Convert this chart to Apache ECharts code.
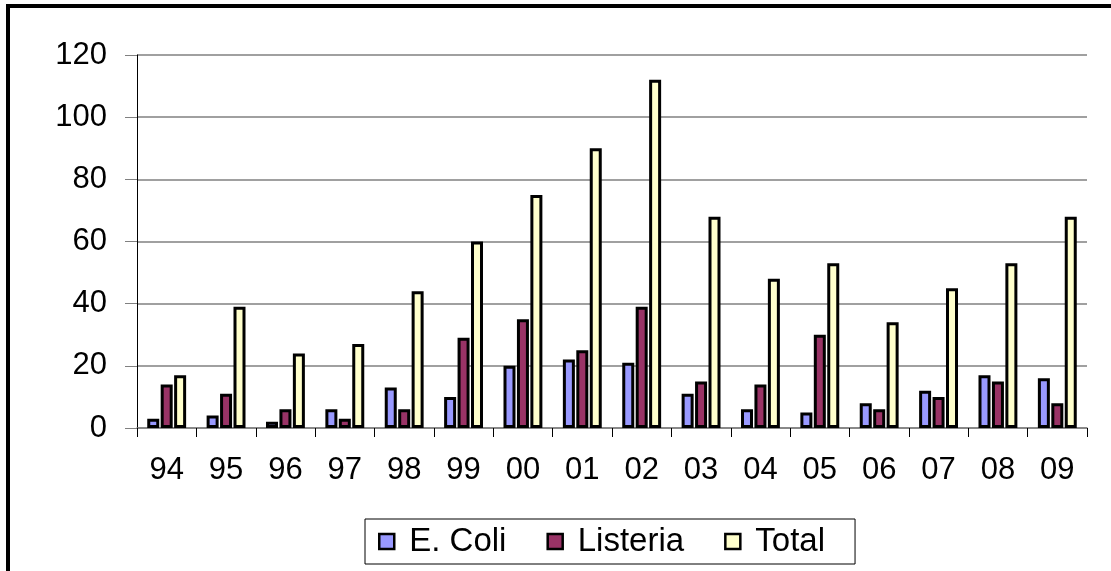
<!DOCTYPE html>
<html>
<head>
<meta charset="utf-8">
<script src="https://cdn.jsdelivr.net/npm/echarts@6/dist/echarts.min.js"></script>
<style>
  html, body { margin: 0; padding: 0; background: #fff; }
  #chart { width: 1111px; height: 571px; }
</style>
</head>
<body>
<div id="chart"></div>
<script>
const years = ['94', '95', '96', '97', '98', '99', '00', '01', '02', '03', '04', '05', '06', '07', '08', '09'];
const eColi = [3, 4, 2, 6, 13, 10, 20, 22, 21, 11, 6, 5, 8, 12, 17, 16];
const listeria = [14, 11, 6, 3, 6, 29, 35, 25, 39, 15, 14, 30, 6, 10, 15, 8];
const total = [17, 39, 24, 27, 44, 60, 75, 90, 112, 68, 48, 53, 34, 45, 53, 68];

const chart = echarts.init(document.getElementById('chart'));
const font = 'Liberation Sans, Arial, sans-serif';

const barStyle = (color) => ({
  color: color,
  borderColor: '#000',
  borderWidth: 3
});

chart.setOption({
  animation: false,
  backgroundColor: '#fff',
  graphic: [
    {
      type: 'rect',
      shape: { x: 8, y: 6, width: 1120, height: 600 },
      style: { fill: 'none', stroke: '#000', lineWidth: 4 },
      silent: true
    }
  ],
  grid: {
    left: 137,
    right: 24,
    top: 55,
    bottom: 143
  },
  legend: {
    left: 365,
    top: 519,
    padding: [6, 30, 6, 13],
    backgroundColor: '#fff',
    borderColor: '#000',
    borderWidth: 1,
    itemWidth: 15,
    itemHeight: 15,
    itemGap: 40,
    icon: 'rect',
    itemStyle: { borderColor: '#000', borderWidth: 2.5 },
    textStyle: { fontFamily: font, fontSize: 33, color: '#000', padding: [0, 0, 0, 10] },
    data: ['E. Coli', 'Listeria', 'Total']
  },
  xAxis: {
    type: 'category',
    data: years,
    axisLine: { lineStyle: { color: '#808080', width: 1.5 } },
    axisTick: { show: true, length: 9, lineStyle: { color: '#000' } },
    axisLabel: { fontFamily: font, fontSize: 31, color: '#000', margin: 27 }
  },
  yAxis: {
    type: 'value',
    min: 0,
    max: 120,
    interval: 20,
    axisLine: { show: true, lineStyle: { color: '#000', width: 1 } },
    axisTick: { show: true, length: 12, lineStyle: { color: '#808080' } },
    axisLabel: { fontFamily: font, fontSize: 31, color: '#000', margin: 30 },
    splitLine: { lineStyle: { color: '#808080', width: 1.5 } }
  },
  series: [
    {
      name: 'E. Coli',
      type: 'bar',
      data: eColi,
      barWidth: 12,
      barGap: '12%',
      itemStyle: barStyle('#9999ff')
    },
    {
      name: 'Listeria',
      type: 'bar',
      data: listeria,
      barWidth: 12,
      barGap: '12%',
      itemStyle: barStyle('#993366')
    },
    {
      name: 'Total',
      type: 'bar',
      data: total,
      barWidth: 12,
      barGap: '12%',
      itemStyle: barStyle('#ffffcc')
    }
  ]
});
</script>
</body>
</html>
